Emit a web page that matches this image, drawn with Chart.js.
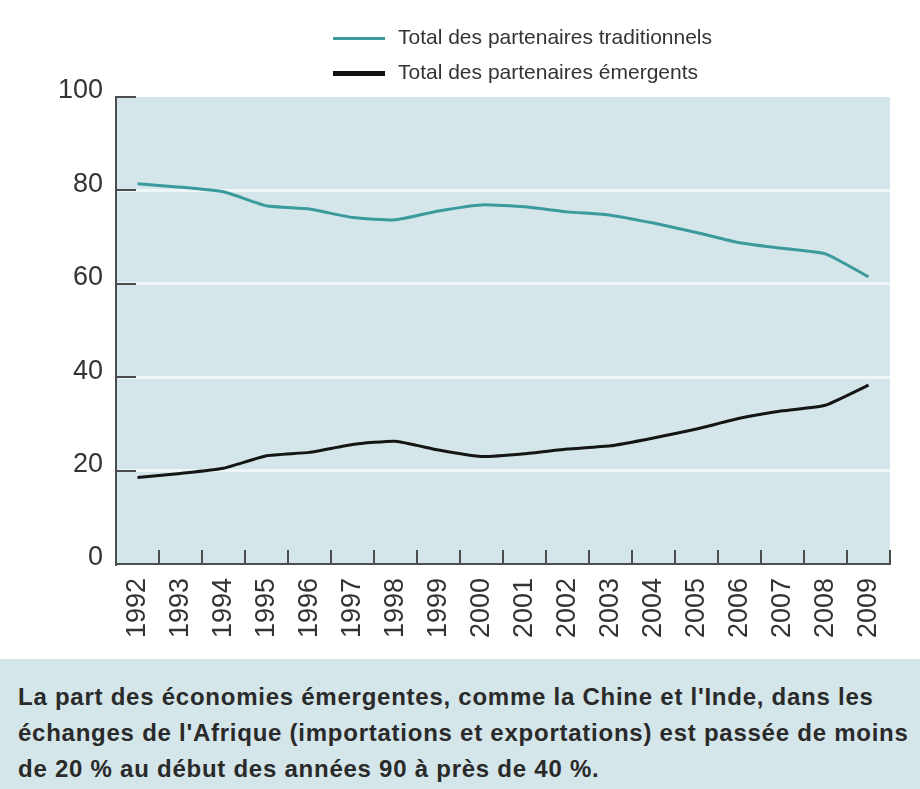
<!DOCTYPE html>
<html lang="fr">
<head>
<meta charset="utf-8">
<script src="https://cdn.jsdelivr.net/npm/chart.js@4.4.1/dist/chart.umd.min.js"></script>
<style>
  html, body { margin: 0; padding: 0; background: #fff; }
  #wrap { position: relative; width: 920px; height: 789px; overflow: hidden; }
  #chart { position: absolute; left: 0; top: 0; }
  .legend { position: absolute; left: 333px; font-family: 'Liberation Sans Narrow', 'Arial Narrow', sans-serif; font-size: 21px; color: #333; }
  .legend div { position: relative; height: 35px; line-height: 20px; white-space: nowrap; }
  .legend .sw { display: inline-block; width: 52px; vertical-align: middle; margin-right: 13px; }
  #caption { position: absolute; left: 0; top: 659px; width: 920px; height: 130px; background: #d4e6e9;
    font-family: 'Liberation Sans', Arial, sans-serif; font-weight: bold; font-size: 24px; color: #2a2a2a;
    letter-spacing: 0.75px; line-height: 36px; padding: 20px 0 0 18px; box-sizing: border-box; white-space: nowrap; }
</style>
</head>
<body>
<div id="wrap">
  <canvas id="chart" width="920" height="657"></canvas>
  <div class="legend" style="top: 27px;">
    <div><span class="sw" style="border-top: 3px solid #3b9a9c;"></span>Total des partenaires traditionnels</div>
    <div><span class="sw" style="border-top: 5px solid #111;"></span>Total des partenaires émergents</div>
  </div>
  <div id="caption">La part des économies émergentes, comme la Chine et l'Inde, dans les<br>échanges de l'Afrique (importations et exportations) est passée de moins<br>de 20 % au début des années 90 à près de 40 %.</div>
</div>
<script>
const years = ['1992', '1993', '1994', '1995', '1996', '1997', '1998', '1999', '2000',
               '2001', '2002', '2003', '2004', '2005', '2006', '2007', '2008', '2009'];
const traditionnels = [81.4, 80.7, 79.7, 76.7, 76.0, 74.2, 73.7, 75.6, 76.9,
                       76.5, 75.4, 74.7, 73.0, 71.0, 68.8, 67.6, 66.4, 61.5];
const emergents = [18.5, 19.4, 20.5, 23.2, 23.9, 25.6, 26.3, 24.4, 23.0,
                   23.6, 24.6, 25.3, 27.0, 28.9, 31.2, 32.8, 34.0, 38.3];
const yTicks = [0, 20, 40, 60, 80, 100];

const axisColor = '#4d4d4d';

// shaded plot background + inner tick marks
const plotDecor = {
    id: 'plotDecor',
    beforeDraw(chart) {
        const { ctx, chartArea: a } = chart;
        ctx.save();
        ctx.fillStyle = '#d4e6e9';
        ctx.fillRect(a.left, a.top, a.right - a.left, a.bottom - a.top);
        ctx.restore();
    },
    afterDatasetsDraw(chart) {
        const { ctx, scales } = chart;
        const x = scales.x, y = scales.y;
        ctx.save();
        ctx.strokeStyle = axisColor;
        ctx.lineWidth = 2;
        // y ticks pointing inward
        yTicks.forEach(v => {
            if (v === 0) return;
            const py = Math.round(y.getPixelForValue(v));
            ctx.beginPath();
            ctx.moveTo(x.left, py);
            ctx.lineTo(x.left + 20, py);
            ctx.stroke();
        });
        // x ticks at band boundaries pointing up
        for (let i = 1; i <= years.length; i++) {
            const px = Math.round(x.getPixelForValue(i - 0.5));
            ctx.beginPath();
            ctx.moveTo(px, y.bottom);
            ctx.lineTo(px, y.bottom - 14);
            ctx.stroke();
        }
        ctx.restore();
    }
};

new Chart(document.getElementById('chart'), {
    type: 'line',
    data: {
        labels: years,
        datasets: [
            {
                label: 'Total des partenaires traditionnels',
                data: traditionnels,
                borderColor: '#3b9a9c',
                borderWidth: 3,
                pointRadius: 0,
                tension: 0.15
            },
            {
                label: 'Total des partenaires émergents',
                data: emergents,
                borderColor: '#151515',
                borderWidth: 3,
                pointRadius: 0,
                tension: 0.15
            }
        ]
    },
    options: {
        responsive: false,
        animation: false,
        devicePixelRatio: 1,
        layout: { padding: { top: 97, right: 30, left: 0, bottom: 0 } },
        plugins: { legend: { display: false }, tooltip: { enabled: false } },
        scales: {
            x: {
                offset: true,
                afterFit: s => { s.height = 93; },
                grid: { offset: true, drawOnChartArea: false, drawTicks: false },
                border: { color: axisColor, width: 2 },
                ticks: {
                    minRotation: 90,
                    maxRotation: 90,
                    padding: 14,
                    color: '#333',
                    font: { family: "'Liberation Sans', Arial, sans-serif", size: 27 }
                }
            },
            y: {
                min: 0,
                max: 100,
                afterFit: s => { s.width = 116; },
                afterBuildTicks: s => { s.ticks = yTicks.map(v => ({ value: v })); },
                grid: {
                    drawTicks: false,
                    lineWidth: 3,
                    color: c => (c.tick && (c.tick.value === 0 || c.tick.value === 100)) ? 'rgba(0,0,0,0)' : '#eef6f7'
                },
                border: { color: axisColor, width: 2 },
                ticks: {
                    padding: 13,
                    labelOffset: -6,
                    color: '#333',
                    font: { family: "'Liberation Sans', Arial, sans-serif", size: 27 }
                }
            }
        }
    },
    plugins: [plotDecor]
});
</script>
</body>
</html>
